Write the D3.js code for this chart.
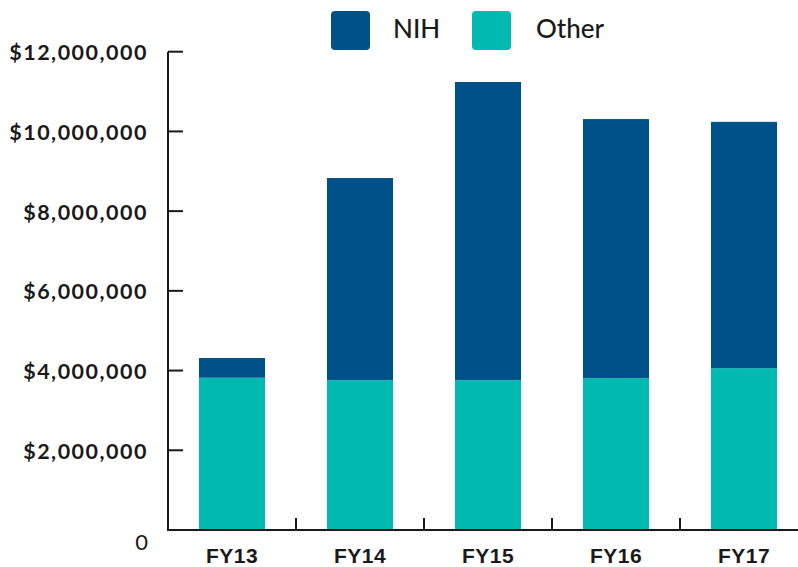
<!DOCTYPE html>
<html><head><meta charset="utf-8">
<script src="https://cdn.jsdelivr.net/npm/d3@7"></script>
<style>body{margin:0;background:#fff}</style>
</head><body>
<svg id="c" width="798" height="567"></svg>
<script>
const categories = ["FY13","FY14","FY15","FY16","FY17"];
const otherValues = [3820000, 3760000, 3760000, 3810000, 4060000];
const nihValues = [495000, 5070000, 7480000, 6500000, 6180000];
const yTicks = [0, 2000000, 4000000, 6000000, 8000000, 10000000, 12000000];
const seriesNames = ["NIH", "Other"];
const colors = {NIH: "#00518A", Other: "#00B9B0"};

const svg = d3.select("#c");
const x0 = 168, yBase = 530, yTop = 51.7;
const x = d3.scaleBand().domain(categories).range([x0, x0 + 128*5]).paddingInner(0.484).paddingOuter(0.242);
const y = d3.scaleLinear().domain([0, 12000000]).range([yBase, yTop]);

const data = categories.map((c, i) => ({cat: c, Other: otherValues[i], NIH: nihValues[i]}));
const stack = d3.stack().keys(["Other", "NIH"])(data);

svg.append("g").selectAll("g").data(stack).join("g")
  .attr("fill", d => colors[d.key])
  .selectAll("rect").data(d => d).join("rect")
  .attr("x", d => x(d.data.cat))
  .attr("width", x.bandwidth())
  .attr("y", d => y(d[1]))
  .attr("height", d => y(d[0]) - y(d[1]));

// Y axis
const yg = svg.append("g");
yg.append("line").attr("x1", x0).attr("x2", x0).attr("y1", y(12000000)).attr("y2", yBase)
  .attr("stroke", "#1a1a1a").attr("stroke-width", 2);
yg.selectAll("line.t").data(yTicks).join("line").attr("class","t")
  .attr("x1", x0).attr("x2", x0 + 15).attr("y1", d => y(d)).attr("y2", d => y(d))
  .attr("stroke", "#1a1a1a").attr("stroke-width", 2);
const fmt = d => d === 0 ? "0" : "$" + d3.format(",")(d);
yg.selectAll("text").data(yTicks).join("text")
  .attr("x", 148).attr("y", d => d === 0 ? y(d) + 12 : y(d) + 1)
  .attr("dy", "0.35em").attr("text-anchor", "end")
  .attr("font-family", "Lato, sans-serif").attr("font-size", d => d === 0 ? 22 : 21.5)
  .attr("letter-spacing", d => d === 0 ? 0 : 1.5)
  .attr("font-weight", d => d === 0 ? 400 : 700).attr("fill", "#1a1a1a")
  .text(fmt);

// X axis
const xg = svg.append("g");
xg.append("line").attr("x1", x0 - 1).attr("x2", 798).attr("y1", yBase).attr("y2", yBase)
  .attr("stroke", "#1a1a1a").attr("stroke-width", 2);
const bounds = categories.slice(1).map(c => x(c) - x.step() * x.paddingInner() / 2);
xg.selectAll("line.t").data(bounds).join("line").attr("class","t")
  .attr("x1", d => d).attr("x2", d => d).attr("y1", yBase).attr("y2", yBase - 12)
  .attr("stroke", "#1a1a1a").attr("stroke-width", 2);
xg.selectAll("text").data(categories).join("text")
  .attr("x", d => x(d) + x.bandwidth()/2).attr("y", 556).attr("dy", "0.35em")
  .attr("text-anchor", "middle").attr("font-family", "'Liberation Sans', Arial, sans-serif")
  .attr("font-size", 21).attr("letter-spacing", 0.5).attr("font-weight", 700).attr("fill", "#1a1a1a").text(d => d);

// Legend
const legendX = [331, 472];
const lg = svg.append("g").selectAll("g").data(seriesNames).join("g")
  .attr("transform", (d, i) => `translate(${legendX[i]},11)`);
lg.append("rect").attr("width", 39).attr("height", 39).attr("rx", 4).attr("fill", d => colors[d]);
lg.append("text").attr("x", d => d === "NIH" ? 62 : 64).attr("y", 27).attr("font-family", "Lato, sans-serif")
  .attr("font-size", 26).attr("font-weight", 500).attr("fill", "#1a1a1a").text(d => d);
</script>
</body></html>
